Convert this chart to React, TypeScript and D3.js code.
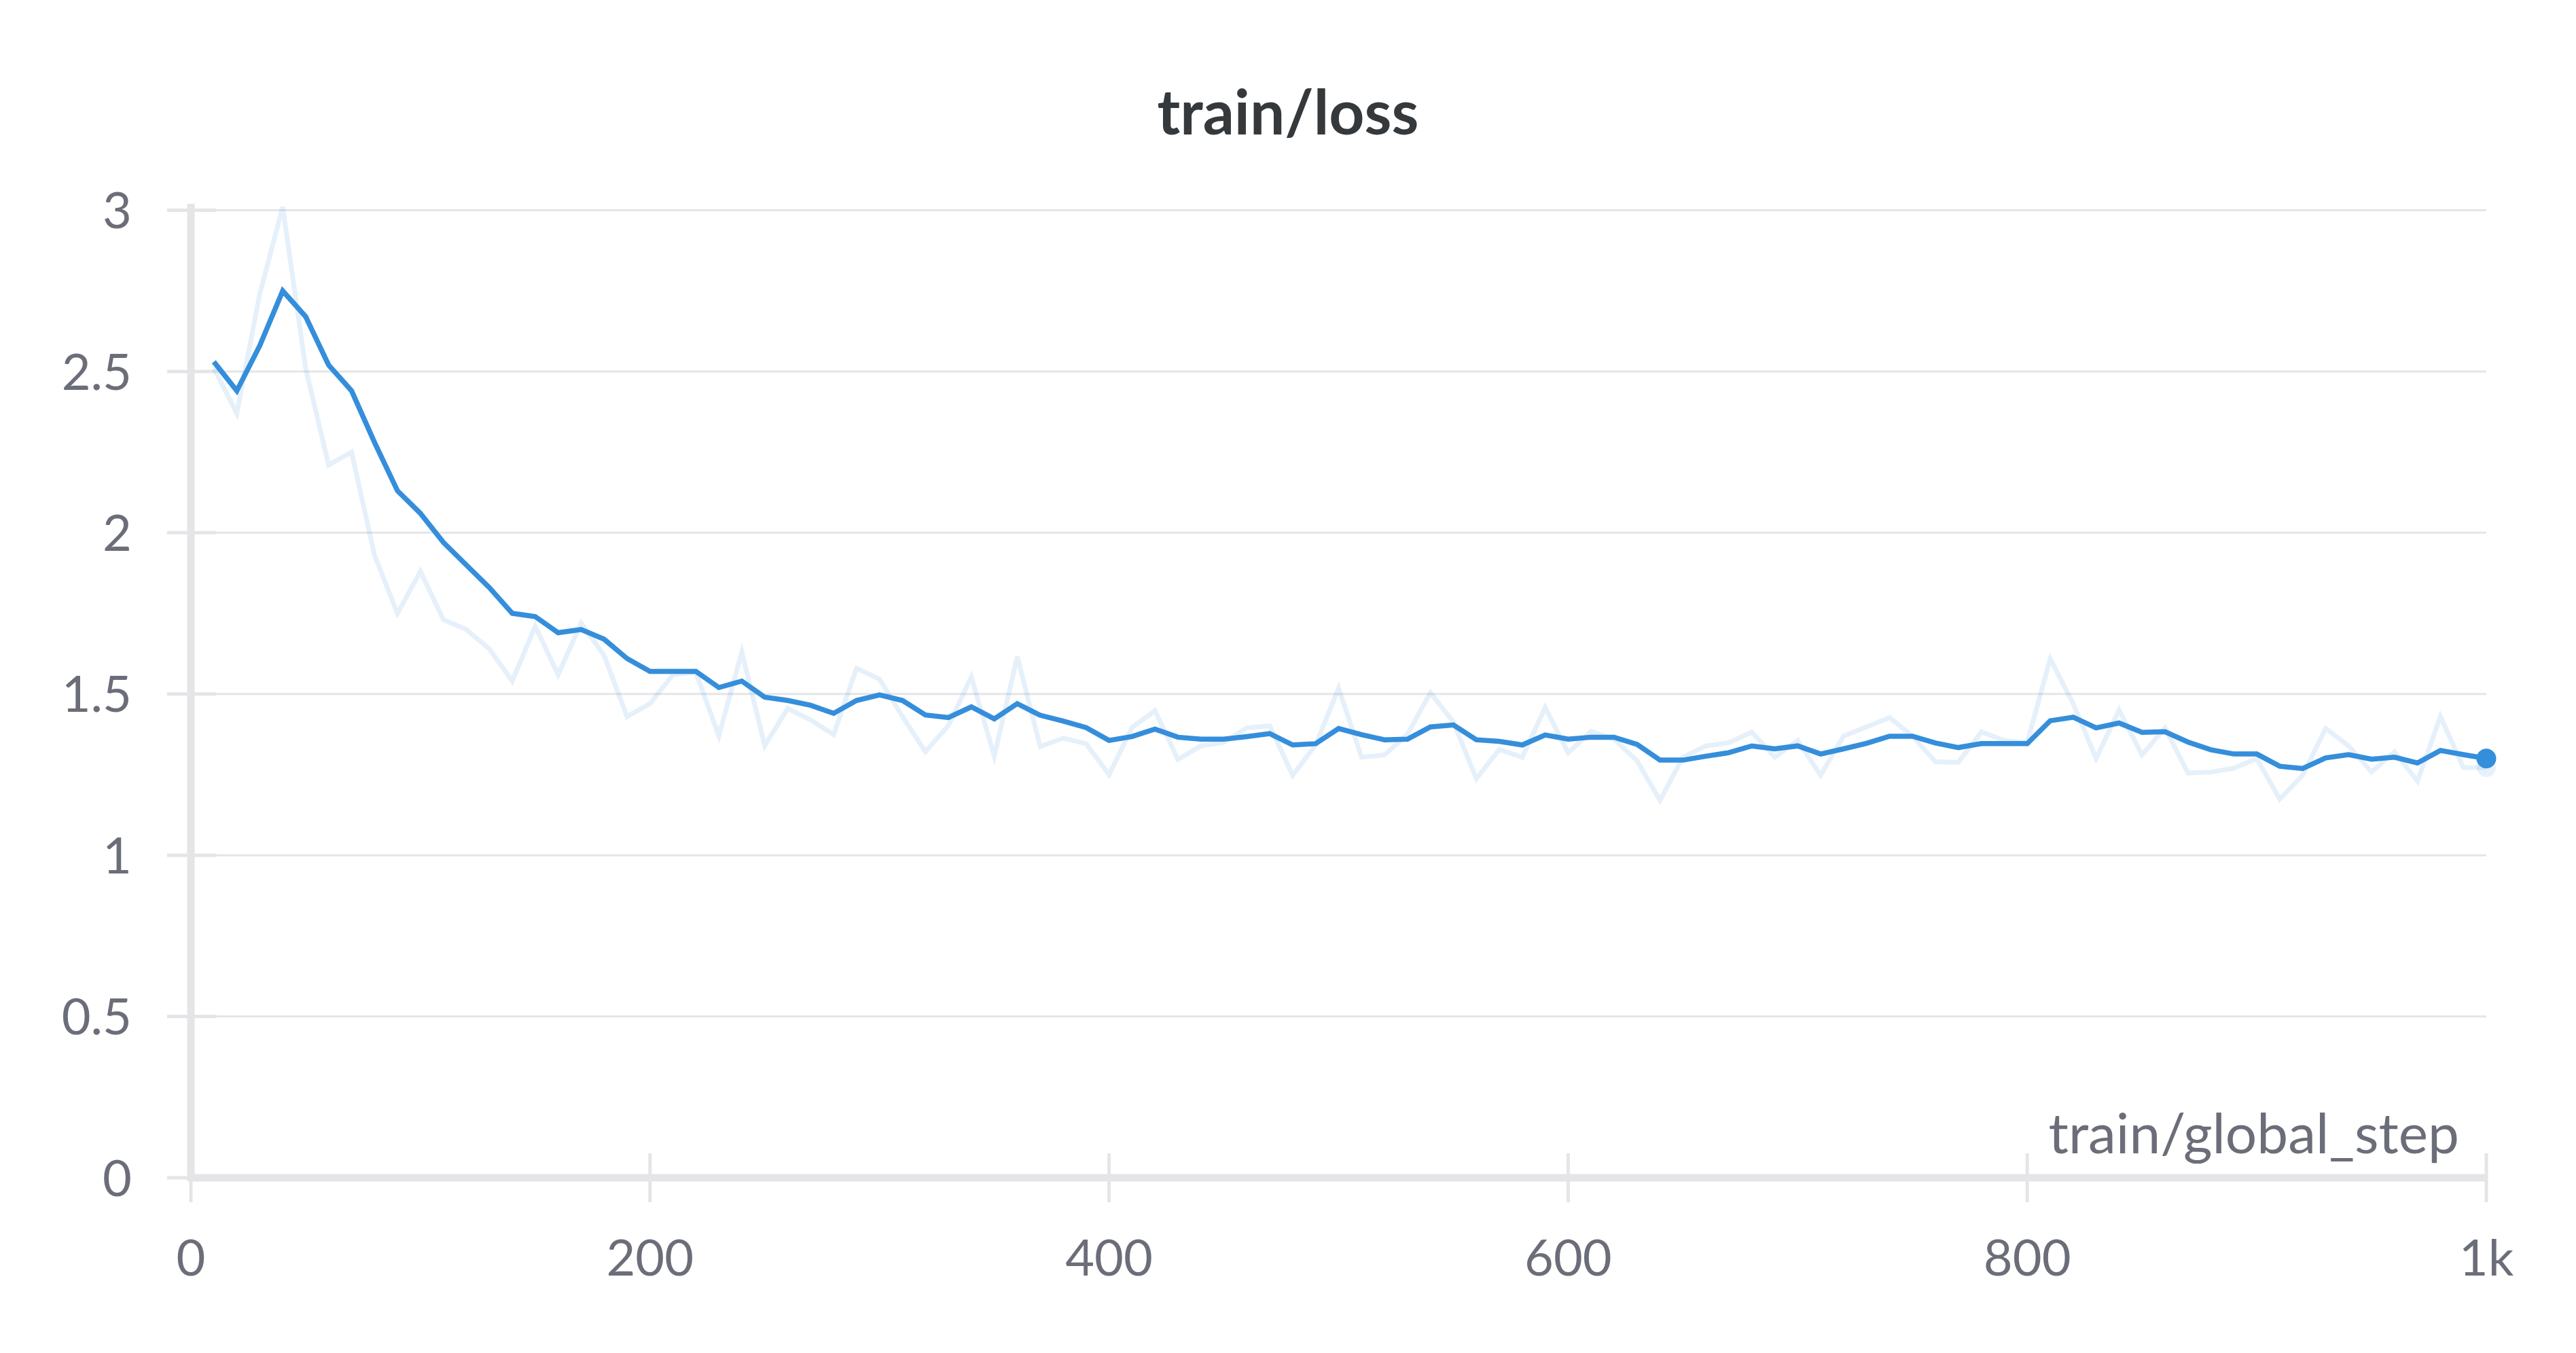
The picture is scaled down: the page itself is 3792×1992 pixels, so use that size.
import React from "react";
import * as d3 from "d3";

const steps: number[] = [
  10, 20, 30, 40, 50, 60, 70, 80, 90, 100, 110, 120, 130, 140, 150, 160, 170, 180, 190, 200,
  210, 220, 230, 240, 250, 260, 270, 280, 290, 300, 310, 320, 330, 340, 350, 360, 370, 380, 390, 400,
  410, 420, 430, 440, 450, 460, 470, 480, 490, 500, 510, 520, 530, 540, 550, 560, 570, 580, 590, 600,
  610, 620, 630, 640, 650, 660, 670, 680, 690, 700, 710, 720, 730, 740, 750, 760, 770, 780, 790, 800,
  810, 820, 830, 840, 850, 860, 870, 880, 890, 900, 910, 920, 930, 940, 950, 960, 970, 980, 990, 1000,
];

const lossRaw: number[] = [
  2.51, 2.37, 2.74, 3.01, 2.51, 2.21, 2.25, 1.93, 1.75, 1.88, 1.73, 1.70, 1.64, 1.54, 1.71, 1.56, 1.72, 1.62, 1.43, 1.47,
  1.56, 1.567, 1.37, 1.63, 1.34, 1.455, 1.42, 1.374, 1.58, 1.546, 1.43, 1.321, 1.402, 1.553, 1.307, 1.616, 1.337, 1.363, 1.346, 1.25,
  1.396, 1.448, 1.297, 1.339, 1.35, 1.395, 1.401, 1.248, 1.342, 1.518, 1.304, 1.311, 1.375, 1.504, 1.413, 1.237, 1.328, 1.304, 1.458, 1.318,
  1.384, 1.36, 1.293, 1.17, 1.304, 1.339, 1.349, 1.382, 1.304, 1.356, 1.248, 1.37, 1.398, 1.427, 1.37, 1.29, 1.288, 1.382, 1.356, 1.349,
  1.609, 1.47, 1.30, 1.45, 1.311, 1.395, 1.255, 1.258, 1.27, 1.30, 1.174, 1.248, 1.393, 1.339, 1.258, 1.321, 1.23, 1.43, 1.272, 1.272,
];

const lossSmoothed: number[] = [
  2.53, 2.44, 2.58, 2.75, 2.67, 2.52, 2.44, 2.28, 2.13, 2.06, 1.97, 1.90, 1.83, 1.75, 1.74, 1.69, 1.70, 1.67, 1.61, 1.57,
  1.57, 1.57, 1.52, 1.54, 1.49, 1.48, 1.465, 1.44, 1.48, 1.497, 1.48, 1.435, 1.427, 1.46, 1.423, 1.47, 1.434, 1.416, 1.396, 1.356,
  1.368, 1.391, 1.366, 1.36, 1.36, 1.368, 1.377, 1.342, 1.346, 1.393, 1.374, 1.358, 1.36, 1.398, 1.404, 1.358, 1.353, 1.342, 1.373, 1.36,
  1.366, 1.366, 1.344, 1.295, 1.295, 1.307, 1.318, 1.339, 1.33, 1.339, 1.314, 1.33, 1.347, 1.369, 1.369, 1.348, 1.334, 1.346, 1.346, 1.346,
  1.417, 1.428, 1.395, 1.41, 1.381, 1.383, 1.351, 1.327, 1.314, 1.314, 1.276, 1.269, 1.302, 1.312, 1.298, 1.304, 1.286, 1.325, 1.312, 1.30,
];

const yTicks: number[] = [0, 0.5, 1, 1.5, 2, 2.5, 3];
const yTickLabels: string[] = ["0", "0.5", "1", "1.5", "2", "2.5", "3"];
const xTicks: number[] = [0, 200, 400, 600, 800, 1000];
const xTickLabels: string[] = ["0", "200", "400", "600", "800", "1k"];

const title = "train/loss";
const xAxisTitle = "train/global_step";

const W = 3792;
const H = 1992;

export default function App() {
  const x = d3.scaleLinear().domain([0, 1000]).range([281, 3660]);
  const y = d3.scaleLinear().domain([0, 3]).range([1734, 309.5]);

  const line = d3
    .line<number>()
    .x((_, i) => x(steps[i]))
    .y((d) => y(d));

  const rawPath = line(lossRaw) || "";
  const smoothPath = line(lossSmoothed) || "";

  const lastI = steps.length - 1;
  const font = "Lato, 'Open Sans', sans-serif";
  const labelColor = "#6b6e78";
  const axisColor = "#e5e5e8";

  return (
    <svg
      width={W}
      height={H}
      viewBox={`0 0 ${W} ${H}`}
      style={{ position: "absolute", left: 0, top: 0, background: "#fff" }}
    >
      <rect x={0} y={0} width={W} height={H} fill="#fff" />
      <text
        x={W / 2}
        y={198}
        textAnchor="middle"
        fontFamily={font}
        fontWeight={700}
        fontSize={91}
        fill="#35393c"
      >
        {title}
      </text>

      {/* gridlines */}
      {yTicks.map((t) => (
        <line
          key={"g" + t}
          x1={x(0)}
          x2={x(1000)}
          y1={y(t)}
          y2={y(t)}
          stroke={axisColor}
          strokeWidth={3}
        />
      ))}
      {/* y ticks */}
      {yTicks.map((t) => (
        <line
          key={"yt" + t}
          x1={246}
          x2={318}
          y1={y(t)}
          y2={y(t)}
          stroke={axisColor}
          strokeWidth={5}
        />
      ))}
      {/* x ticks */}
      {xTicks.map((t) => (
        <line
          key={"xt" + t}
          x1={x(t)}
          x2={x(t)}
          y1={1698}
          y2={1770}
          stroke={axisColor}
          strokeWidth={5}
        />
      ))}
      {/* axes */}
      <line x1={x(0)} x2={x(0)} y1={300} y2={1739} stroke={axisColor} strokeWidth={11} />
      <line x1={x(0) - 5} x2={x(1000)} y1={y(0)} y2={y(0)} stroke={axisColor} strokeWidth={11} />

      {/* y labels */}
      {yTicks.map((t, i) => (
        <text
          key={"yl" + t}
          x={194}
          y={y(t)}
          dy="0.36em"
          textAnchor="end"
          fontFamily={font}
          fontSize={74}
          fill={labelColor}
        >
          {yTickLabels[i]}
        </text>
      ))}
      {/* x labels */}
      {xTicks.map((t, i) => (
        <text
          key={"xl" + t}
          x={x(t)}
          y={1878}
          textAnchor="middle"
          fontFamily={font}
          fontSize={74}
          fill={labelColor}
        >
          {xTickLabels[i]}
        </text>
      ))}
      <text
        x={3620}
        y={1698}
        textAnchor="end"
        fontFamily={font}
        fontSize={82}
        fill={labelColor}
      >
        {xAxisTitle}
      </text>

      {/* series */}
      <path
        d={rawPath}
        fill="none"
        stroke="rgba(53,142,219,0.13)"
        strokeWidth={7}
        strokeLinejoin="miter"
      />
      <path
        d={smoothPath}
        fill="none"
        stroke="#358edb"
        strokeWidth={7.5}
        strokeLinejoin="miter"
      />
      <circle
        cx={x(steps[lastI])}
        cy={y(lossRaw[lastI])}
        r={14}
        fill="rgba(53,142,219,0.12)"
      />
      <circle
        cx={x(steps[lastI])}
        cy={y(lossSmoothed[lastI])}
        r={14.5}
        fill="#358edb"
      />
    </svg>
  );
}
